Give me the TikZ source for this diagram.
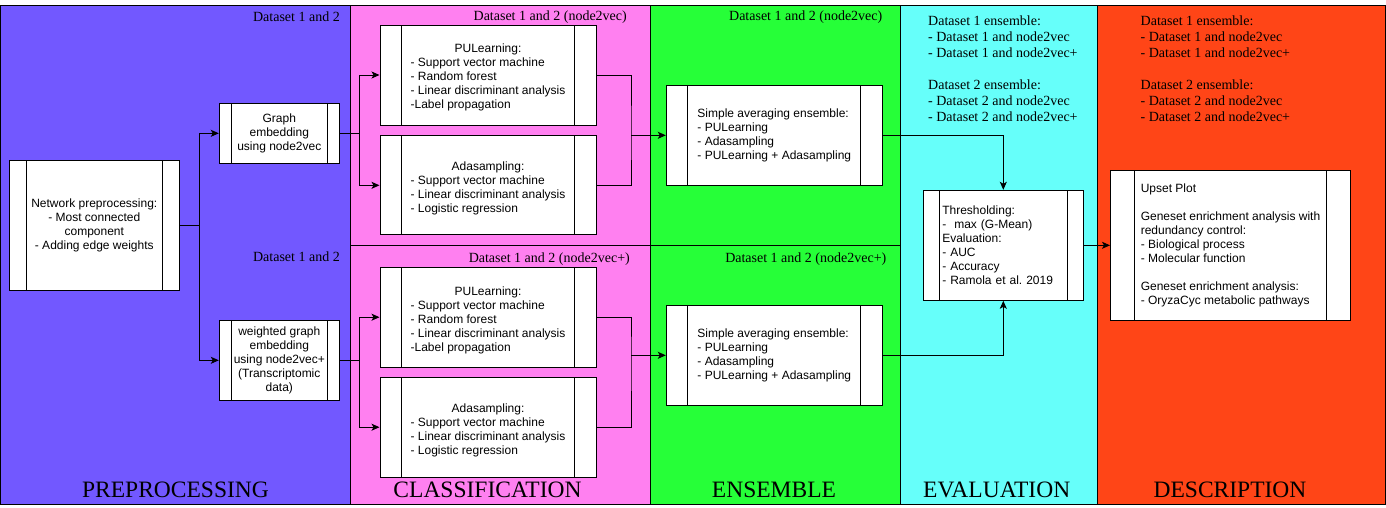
\documentclass[tikz,border=0pt]{standalone}
\usepackage{fontspec}
\setmainfont{Liberation Serif}
\newfontfamily\boxfont{Liberation Sans}
\usetikzlibrary{arrows.meta, calc}
\frenchspacing

\definecolor{prepcol}{RGB}{114,88,255}
\definecolor{classcol}{RGB}{255,128,240}
\definecolor{enscol}{RGB}{38,255,56}
\definecolor{evalcol}{RGB}{102,255,250}
\definecolor{desccol}{RGB}{255,69,23}

\tikzset{
  procbox/.style={draw, fill=white, line width=1pt, inner sep=2pt,
    font=\boxfont\fontsize{12}{14}\selectfont, align=center,
    path picture={
      \draw[line width=1pt] ($(path picture bounding box.south west)!0.1!(path picture bounding box.south east)$)
        -- ($(path picture bounding box.north west)!0.1!(path picture bounding box.north east)$);
      \draw[line width=1pt] ($(path picture bounding box.south west)!0.9!(path picture bounding box.south east)$)
        -- ($(path picture bounding box.north west)!0.9!(path picture bounding box.north east)$);
    }},
  lanetitle/.style={font=\fontsize{23.5}{26}\selectfont},
  setlabel/.style={font=\fontsize{14}{16}\selectfont, align=left, inner sep=0pt},
  link/.style={line width=1pt, -{Stealth[length=8pt,width=7pt,inset=2pt]}}
}
\newcommand{\methodlist}[2]{\begin{tabular}{@{}l@{}}\multicolumn{1}{@{}c@{}}{\rule{0pt}{15.8pt}#1}\\ #2\end{tabular}}

\begin{document}
\begin{tikzpicture}[x=1pt, y=-1pt]
\useasboundingbox (0,0) rectangle (1386,507);
% lanes
\draw[fill=prepcol, line width=1pt] (0.5,5) rectangle (350,504.5);
\draw[fill=classcol, line width=1pt] (350,5) rectangle (650,504.5);
\draw[fill=enscol, line width=1pt] (650,5) rectangle (900,504.5);
\draw[fill=evalcol, line width=1pt] (900,5) rectangle (1097,504.5);
\draw[fill=desccol, line width=1pt] (1097,5) rectangle (1385,504.5);
\draw[line width=1pt] (350,245) -- (900,245);
%
\node[lanetitle](tprep) at (175.5,490) {PREPROCESSING};
\node[lanetitle](tclass) at (487.5,490) {CLASSIFICATION};
\node[lanetitle](tens) at (774,490) {ENSEMBLE};
\node[lanetitle](teval) at (996.7,490) {EVALUATION};
\node[lanetitle](tdesc) at (1230,490) {DESCRIPTION};
%
\node[setlabel, anchor=east](lprep1) at (340,17) {Dataset 1 and 2};
\node[setlabel, anchor=east](lprep2) at (340,257) {Dataset 1 and 2};
\node[setlabel, anchor=east](lclass1) at (627,17.5) {Dataset 1 and 2 (node2vec)};
\node[setlabel, anchor=east](lclass2) at (630,259) {Dataset 1 and 2 (node2vec+)};
\node[setlabel, anchor=east](lens1) at (882.5,17) {Dataset 1 and 2 (node2vec)};
\node[setlabel, anchor=east](lens2) at (886.5,259) {Dataset 1 and 2 (node2vec+)};
\node[setlabel, anchor=north west](leval) at (928,16) {Dataset 1 ensemble:\\
  - Dataset 1 and node2vec\\ - Dataset 1 and node2vec+\\[16pt]
  Dataset 2 ensemble:\\ - Dataset 2 and node2vec\\ - Dataset 2 and node2vec+};
\node[setlabel, anchor=north west](ldesc) at (1140.5,16) {Dataset 1 ensemble:\\
  - Dataset 1 and node2vec\\ - Dataset 1 and node2vec+\\[16pt]
  Dataset 2 ensemble:\\ - Dataset 2 and node2vec\\ - Dataset 2 and node2vec+};
%
\node[procbox, minimum width=170pt, minimum height=130pt](prep) at (94.3,225.3)
  {Network preprocessing:\\ - Most connected\\ component\\ - Adding edge weights};
\node[procbox, minimum width=120pt, minimum height=60pt](graph) at (279.3,133.3)
  {Graph\\ embedding\\ using node2vec};
\node[procbox, minimum width=120pt, minimum height=80pt](wgraph) at (279.3,360.3)
  {weighted graph\\ embedding\\ using node2vec+\\ (Transcriptomic\\ data)};
%
\node[procbox, minimum width=216pt, minimum height=100pt](pu1) at (488,75)
  {\methodlist{PULearning:}{- Support vector machine\\ - Random forest\\
   - Linear discriminant analysis\\ -Label propagation}};
\node[procbox, minimum width=216pt, minimum height=99.3pt](ada1) at (488,185.3)
  {\methodlist{Adasampling:}{- Support vector machine\\
   - Linear discriminant analysis\\ - Logistic regression}};
\node[procbox, minimum width=216pt, minimum height=100pt](pu2) at (488,317.2)
  {\methodlist{PULearning:}{- Support vector machine\\ - Random forest\\
   - Linear discriminant analysis\\ -Label propagation}};
\node[procbox, minimum width=216pt, minimum height=100pt](ada2) at (488,427.2)
  {\methodlist{Adasampling:}{- Support vector machine\\
   - Linear discriminant analysis\\ - Logistic regression}};
%
\node[procbox, align=left, minimum width=216pt, minimum height=100pt](ens1) at (774.3,135.3)
  {Simple averaging ensemble:\\ - PULearning\\ - Adasampling\\ - PULearning + Adasampling};
\node[procbox, align=left, minimum width=216pt, minimum height=100pt](ens2) at (774.3,355.3)
  {Simple averaging ensemble:\\ - PULearning\\ - Adasampling\\ - PULearning + Adasampling};
\node[procbox, align=left, text width=122pt, minimum width=160pt, minimum height=110pt](eval) at (1003.3,245.3)
  {Thresholding:\\ -\ \ max (G-Mean)\\ Evaluation:\\ - AUC\\ - Accuracy\\ - Ramola et al. 2019};
\node[procbox, align=left, minimum width=240pt, minimum height=150pt](desc) at (1230.5,245.3)
  {Upset Plot\\[14pt] Geneset enrichment analysis with\\ redundancy control:\\ - Biological process\\
   - Molecular function\\[14pt] Geneset enrichment analysis:\\ - OryzaCyc metabolic pathways};
%
\coordinate(sp1) at (199.3,225.3);
\coordinate(sp2) at (359.3,133.3);
\coordinate(sp3) at (359.3,360.3);
\coordinate(mg1) at (631,135.3);
\coordinate(mg2) at (631,355.3);
%
\draw[line width=1pt](prep) -- (sp1);
\draw[link](sp1) |- (graph);
\draw[link](sp1) |- (wgraph);
\draw[line width=1pt](graph) -- (sp2);
\draw[link](sp2) |- (pu1);
\draw[link](sp2) |- (ada1);
\draw[line width=1pt](wgraph) -- (sp3);
\draw[link](sp3) |- (pu2);
\draw[link](sp3) |- (ada2);
\draw[line width=1pt](pu1) -| (mg1) |- (ada1);
\draw[line width=1pt](pu2) -| (mg2) |- (ada2);
\draw[link](mg1) -- (ens1);
\draw[link](mg2) -- (ens2);
\draw[link](ens1) -| (eval);
\draw[link](ens2) -| (eval);
\draw[link](eval) -- (desc);
\end{tikzpicture}
\end{document}
